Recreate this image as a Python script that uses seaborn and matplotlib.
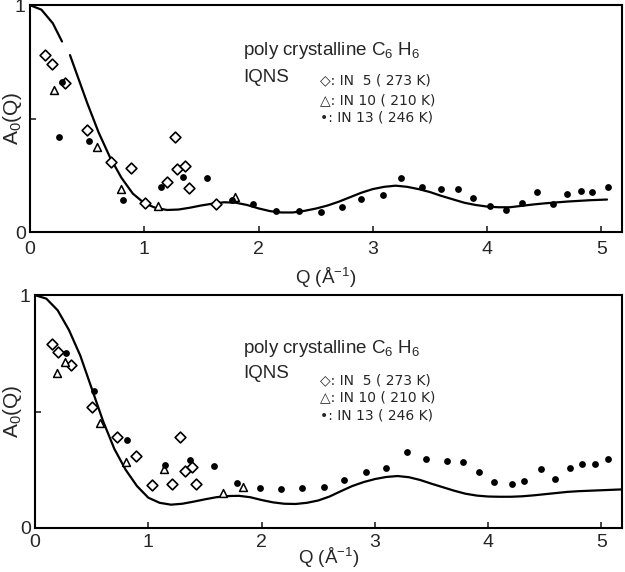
import numpy as np
import pandas as pd
import seaborn as sns
import matplotlib
matplotlib.use("Agg")
import matplotlib.pyplot as plt

# --- top panel data ---
top_curve_q = [0, 0.1, 0.2, 0.28, np.nan, 0.35, 0.4, 0.5, 0.6, 0.7, 0.8, 0.9, 1.0, 1.1, 1.2, 1.3, 1.4,
               1.5, 1.6, 1.7, 1.8, 1.9, 2.0, 2.1, 2.2, 2.3, 2.4, 2.5, 2.6, 2.7, 2.8, 2.9, 3.0,
               3.1, 3.2, 3.3, 3.4, 3.5, 3.6, 3.7, 3.8, 3.9, 4.0, 4.1, 4.2, 4.3, 4.4, 4.5, 4.6,
               4.7, 4.8, 4.9, 5.0, 5.05]
top_curve_a = [1.0, 0.98, 0.92, 0.84, np.nan, 0.78, 0.71, 0.57, 0.44, 0.33, 0.24, 0.17, 0.128, 0.107,
               0.098, 0.10, 0.108, 0.118, 0.126, 0.132, 0.13, 0.12, 0.105, 0.093, 0.087, 0.087,
               0.094, 0.104, 0.117, 0.134, 0.154, 0.174, 0.19, 0.2, 0.205, 0.2, 0.19, 0.177,
               0.16, 0.145, 0.13, 0.12, 0.113, 0.11, 0.11, 0.116, 0.122, 0.127, 0.131, 0.135,
               0.138, 0.141, 0.143, 0.144]

top_in5_q = [0.13, 0.195, 0.31, 0.50, 0.705, 0.88, 1.005, 1.195, 1.27, 1.29, 1.36, 1.39, 1.63]
top_in5_a = [0.78, 0.74, 0.655, 0.45, 0.31, 0.285, 0.13, 0.22, 0.42, 0.28, 0.29, 0.195, 0.126]
top_in10_q = [0.21, 0.585, 0.80, 1.12, 1.79]
top_in10_a = [0.625, 0.376, 0.19, 0.116, 0.156]
top_in13_q = [0.28, 0.25, 0.52, 0.81, 1.145, 1.34, 1.545, 1.77, 1.95, 2.15, 2.35, 2.55, 2.73,
              2.90, 3.09, 3.25, 3.43, 3.60, 3.75, 3.88, 4.03, 4.17, 4.31, 4.44, 4.58, 4.70,
              4.82, 4.92, 5.06]
top_in13_a = [0.66, 0.42, 0.40, 0.14, 0.20, 0.245, 0.24, 0.14, 0.123, 0.094, 0.094, 0.09, 0.11,
              0.147, 0.166, 0.24, 0.197, 0.192, 0.192, 0.151, 0.116, 0.10, 0.13, 0.175, 0.123,
              0.17, 0.182, 0.175, 0.20]

# --- bottom panel data ---
bot_curve_q = [0, 0.1, 0.2, 0.3, 0.4, 0.5, 0.6, 0.7, 0.8, 0.9, 1.0, 1.1, 1.2, 1.3, 1.4, 1.5,
               1.6, 1.7, 1.8, 1.9, 2.0, 2.1, 2.2, 2.3, 2.4, 2.5, 2.6, 2.7, 2.8, 2.9, 3.0, 3.1,
               3.2, 3.3, 3.4, 3.5, 3.6, 3.7, 3.8, 3.9, 4.0, 4.1, 4.2, 4.3, 4.4, 4.5, 4.6, 4.7,
               4.8, 4.9, 5.0, 5.1, 5.2]
bot_curve_a = [1.0, 0.985, 0.935, 0.85, 0.74, 0.60, 0.46, 0.34, 0.25, 0.18, 0.13, 0.108, 0.10,
               0.104, 0.113, 0.123, 0.132, 0.137, 0.138, 0.132, 0.12, 0.11, 0.104, 0.103, 0.108,
               0.118, 0.135, 0.158, 0.18, 0.197, 0.21, 0.219, 0.223, 0.218, 0.206, 0.19, 0.175,
               0.16, 0.147, 0.139, 0.135, 0.134, 0.134, 0.136, 0.14, 0.145, 0.15, 0.155, 0.158,
               0.16, 0.162, 0.164, 0.166]

bot_in5_q = [0.147, 0.205, 0.32, 0.505, 0.72, 0.89, 1.03, 1.21, 1.28, 1.32, 1.39, 1.42]
bot_in5_a = [0.79, 0.757, 0.70, 0.52, 0.39, 0.31, 0.185, 0.19, 0.39, 0.246, 0.26, 0.19]
bot_in10_q = [0.197, 0.265, 0.573, 0.80, 1.14, 1.655, 1.84]
bot_in10_a = [0.664, 0.714, 0.452, 0.285, 0.252, 0.152, 0.177]
bot_in13_q = [0.27, 0.523, 0.81, 1.15, 1.37, 1.58, 1.78, 1.99, 2.175, 2.36, 2.55, 2.73, 2.92,
              3.095, 3.28, 3.45, 3.64, 3.78, 3.92, 4.05, 4.21, 4.32, 4.47, 4.59, 4.72, 4.83,
              4.94, 5.055]
bot_in13_a = [0.752, 0.588, 0.378, 0.27, 0.29, 0.267, 0.192, 0.17, 0.166, 0.17, 0.177, 0.206,
              0.239, 0.256, 0.328, 0.295, 0.288, 0.285, 0.239, 0.199, 0.189, 0.203, 0.252,
              0.21, 0.256, 0.273, 0.273, 0.295]

legend_lines = ["\u25c7: IN  5 ( 273 K)", "\u25b3: IN 10 ( 210 K)", "\u2022: IN 13 ( 246 K)"]

sns.set_style("ticks")
plt.rcParams['font.family'] = ['Liberation Sans', 'DejaVu Sans']
plt.rcParams['mathtext.fontset'] = 'custom'
plt.rcParams['mathtext.rm'] = 'Liberation Sans'
plt.rcParams['mathtext.it'] = 'Liberation Sans'

fig = plt.figure(figsize=(6.25, 5.72), dpi=100)
ax_top = fig.add_axes([0.048, 0.594, 0.947, 0.397])
ax_bot = fig.add_axes([0.056, 0.077, 0.939, 0.407])


def draw_panel(ax, cq, ca, q5, a5, q10, a10, q13, a13, head_xy, leg_x, leg_ys, iqns_y,
               ylab_x, xlab_y, xpad):
    ax.plot(cq, ca, color='black', lw=1.6)
    sns.scatterplot(x=q5, y=a5, ax=ax, marker='D', s=30, color='white',
                    edgecolor='black', linewidth=1.2, zorder=3)
    sns.scatterplot(x=q10, y=a10, ax=ax, marker='^', s=32, color='white',
                    edgecolor='black', linewidth=1.1, zorder=3)
    sns.scatterplot(x=q13, y=a13, ax=ax, marker='o', s=24, color='black',
                    edgecolor='black', linewidth=0, zorder=4)
    ax.set_xlim(0, 5.18)
    ax.set_ylim(0, 1)
    ax.set_xticks([0, 1, 2, 3, 4, 5])
    ax.set_yticks([0, 0.5, 1])
    ax.set_yticklabels(['0', '', '1'])
    ax.tick_params(direction='in', length=4, width=1.2, labelsize=14)
    ax.tick_params(axis='x', pad=xpad)
    ax.tick_params(axis='y', pad=3)
    for sp in ax.spines.values():
        sp.set_linewidth(1.5)
        sp.set_color('black')
    ax.set_xlabel('Q (\u00c5$^{-1}$)', fontsize=13.5)
    ax.set_ylabel('A$_0$(Q)', fontsize=15)
    ax.yaxis.set_label_coords(ylab_x, 0.5)
    ax.xaxis.set_label_coords(0.5, xlab_y)
    ax.text(head_xy[0], head_xy[1], 'poly crystalline C$_6$ H$_6$', transform=ax.transAxes,
            fontsize=13.5, va='center', ha='left')
    ax.text(head_xy[0], iqns_y, 'IQNS', transform=ax.transAxes,
            fontsize=13.5, va='center', ha='left')
    for txt, yy in zip(legend_lines, leg_ys):
        ax.text(leg_x, yy, txt, transform=ax.transAxes, fontsize=10,
                va='center', ha='left', family=['DejaVu Sans'])


draw_panel(ax_top, top_curve_q, top_curve_a, top_in5_q, top_in5_a, top_in10_q, top_in10_a,
           top_in13_q, top_in13_a, (0.36, 0.80), 0.49, [0.67, 0.58, 0.505], 0.68,
           -0.01, -0.15, 6)
draw_panel(ax_bot, bot_curve_q, bot_curve_a, bot_in5_q, bot_in5_a, bot_in10_q, bot_in10_a,
           bot_in13_q, bot_in13_a, (0.354, 0.77), 0.486, [0.635, 0.56, 0.485], 0.665,
           -0.018, -0.078, 4)

fig.savefig('out.png', dpi=100)
